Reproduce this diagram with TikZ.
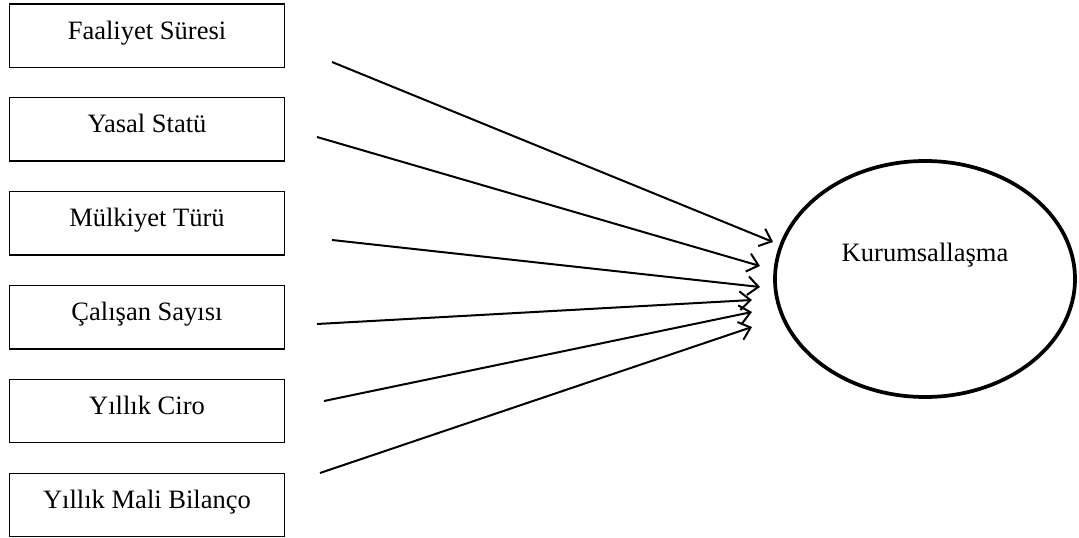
\documentclass[tikz,border=0pt]{standalone}
\usepackage{fontspec}
\setmainfont{Liberation Serif}
\usepackage{tikz}
\usetikzlibrary{shapes.geometric, arrows.meta, positioning, matrix}

\tikzset{
  factor/.style={draw, line width=1pt, minimum width=206pt, minimum height=47.5pt,
                 text height=13.5pt, text depth=8.3pt, anchor=center},
  outcome/.style={ellipse, draw, line width=2.8pt, minimum width=225pt, minimum height=177pt,
                  inner sep=0pt, text height=13.5pt, text depth=39pt},
  arrow/.style={line width=1.5pt, -{Straight Barb[length=8pt,width=14pt,line width=1.5pt]}}
}

\begin{document}
\begin{tikzpicture}[x=0.75pt, y=-0.75pt, font=\fontsize{19.9}{24}\selectfont]
\useasboundingbox (0,0) rectangle (1079,538);

\matrix (factors) [matrix of nodes, nodes={factor}, row sep=21.9pt, inner sep=0pt,
                   anchor=north] at (147,3) {
    Faaliyet Süresi \\
    Yasal Statü \\
    Mülkiyet Türü \\
    Çalışan Sayısı \\
    Yıllık Ciro \\
    Yıllık Mali Bilanço \\
};

\node[outcome] (kurum) at (925,279) {Kurumsallaşma};

% arrows from the factors towards the ellipse
\foreach \sx/\sy/\ex/\ey [count=\i] in {332/62/773/242, 317/137/760/266, 332/240/760/287,
                                        317/324/752/300, 324/401/752/312, 320/473/752/327}
{
  \coordinate (from\i) at (\sx,\sy);
  \coordinate (to\i) at (\ex,\ey);
  \draw[arrow] (from\i) -- (to\i);
}
\end{tikzpicture}
\end{document}
